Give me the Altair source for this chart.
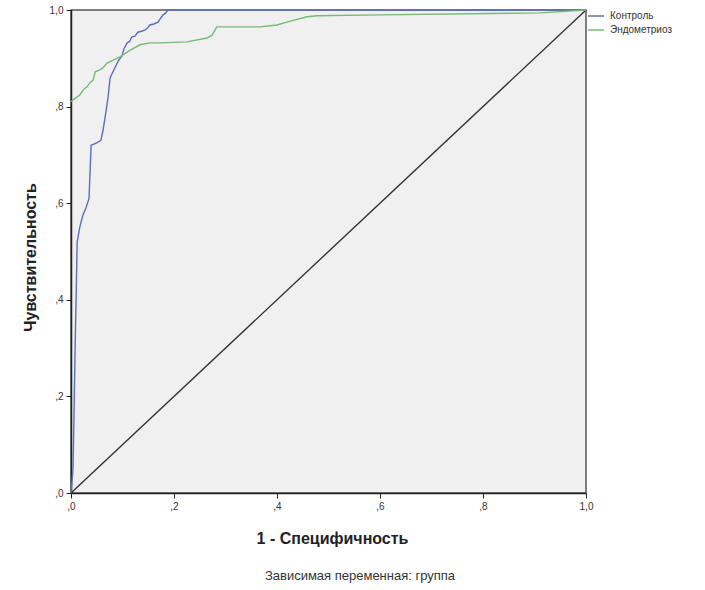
import altair as alt
import pandas as pd

series_names = ["Контроль", "Эндометриоз"]

blue_x = [0, 0.004, 0.008, 0.012, 0.017, 0.023, 0.029, 0.035, 0.039, 0.05, 0.058, 0.062,
          0.068, 0.072, 0.076, 0.085, 0.092, 0.099, 0.103, 0.109, 0.114, 0.118, 0.124,
          0.130, 0.137, 0.144, 0.149, 0.153, 0.161, 0.169, 0.174, 0.179, 0.184, 0.188, 1.0]
blue_y = [0, 0.05, 0.30, 0.52, 0.55, 0.575, 0.59, 0.61, 0.72, 0.725, 0.73, 0.75,
          0.79, 0.82, 0.86, 0.88, 0.895, 0.905, 0.92, 0.932, 0.935, 0.944, 0.946,
          0.954, 0.956, 0.959, 0.963, 0.969, 0.971, 0.975, 0.983, 0.99, 0.994, 1.0, 1.0]

green_x = [0, 0.004, 0.017, 0.024, 0.031, 0.037, 0.043, 0.047, 0.056, 0.062, 0.070, 0.082,
           0.095, 0.115, 0.134, 0.153, 0.173, 0.225, 0.264, 0.274, 0.283, 0.367, 0.400,
           0.419, 0.458, 0.478, 0.600, 0.911, 1.0]
green_y = [0.81, 0.814, 0.824, 0.835, 0.841, 0.85, 0.855, 0.872, 0.876, 0.880, 0.890, 0.896,
           0.903, 0.917, 0.928, 0.932, 0.932, 0.934, 0.942, 0.948, 0.965, 0.965, 0.969,
           0.975, 0.986, 0.988, 0.990, 0.994, 1.0]

ref_x = [0, 1]
ref_y = [0, 1]

x_ticks = [0, 0.2, 0.4, 0.6, 0.8, 1.0]
y_ticks = [0, 0.2, 0.4, 0.6, 0.8, 1.0]

x_title = "1 - Специфичность"
y_title = "Чувствительность"
note = "Зависимая переменная: группа"

colors = ["#5c6fba", "#74bb74"]

rows = []
for i, (a, b) in enumerate(zip(blue_x, blue_y)):
    rows.append({"series": series_names[0], "x": a, "y": b, "o": i})
for i, (a, b) in enumerate(zip(green_x, green_y)):
    rows.append({"series": series_names[1], "x": a, "y": b, "o": i})
df = pd.DataFrame(rows)
ref_df = pd.DataFrame({"x": ref_x, "y": ref_y})
note_df = pd.DataFrame({"t": [note]})

label_expr = "datum.value >= 1 ? '1,0' : ',' + round(datum.value * 10)"

xenc = alt.X("x:Q", scale=alt.Scale(domain=[0, 1], nice=False, zero=False),
             axis=alt.Axis(values=x_ticks, labelExpr=label_expr, title=x_title, grid=False,
                           labelFlush=False,
                           titleX=261, titleY=45, titleBaseline="middle",
                           titleFontSize=16, titleFontWeight="bold"))
yenc = alt.Y("y:Q", scale=alt.Scale(domain=[0, 1], nice=False, zero=False),
             axis=alt.Axis(values=y_ticks, labelExpr=label_expr, title=y_title, grid=False,
                           labelFlush=False,
                           titleX=-41, titleY=247, titleAngle=-90, titleAlign="center",
                           titleBaseline="middle",
                           titleFontSize=16, titleFontWeight="bold"))

diag = alt.Chart(ref_df).mark_line(color="#333333", strokeWidth=1.4).encode(x=xenc, y=yenc)

curves = alt.Chart(df).mark_line(strokeWidth=1.4).encode(
    x=alt.X("x:Q"), y=alt.Y("y:Q"), order="o:Q",
    color=alt.Color("series:N",
                    scale=alt.Scale(domain=series_names, range=colors),
                    legend=alt.Legend(title=None, orient="none", legendX=516, legendY=-3,
                                      symbolType="stroke", symbolSize=256,
                                      symbolStrokeWidth=1.5, labelFontSize=10,
                                      labelColor="#333", rowPadding=0, labelOffset=5))
)

note_layer = alt.Chart(note_df).mark_text(fontSize=13, color="#333", align="center",
                                          baseline="middle").encode(
    x=alt.value(289), y=alt.value(566), text="t:N")

chart = alt.layer(diag, curves, note_layer).properties(
    width=515, height=483,
    padding={"left": 71, "top": 10, "right": 119, "bottom": 97},
    autosize=alt.AutoSizeParams(type="none"),
    background="white",
).configure_view(
    fill="#f0f0f0", stroke="#555", strokeWidth=1.5
).configure_axis(
    domainColor="#222", domainWidth=1.5, tickColor="#222", tickSize=5,
    labelFont="Liberation Sans", titleFont="Liberation Sans",
    labelFontSize=10, labelColor="#333", titleColor="#222", labelPadding=3,
).configure_text(font="Liberation Sans").configure_legend(
    labelFont="Liberation Sans"
)

chart.save("out.html", embed_options={"renderer": "svg", "actions": False})
